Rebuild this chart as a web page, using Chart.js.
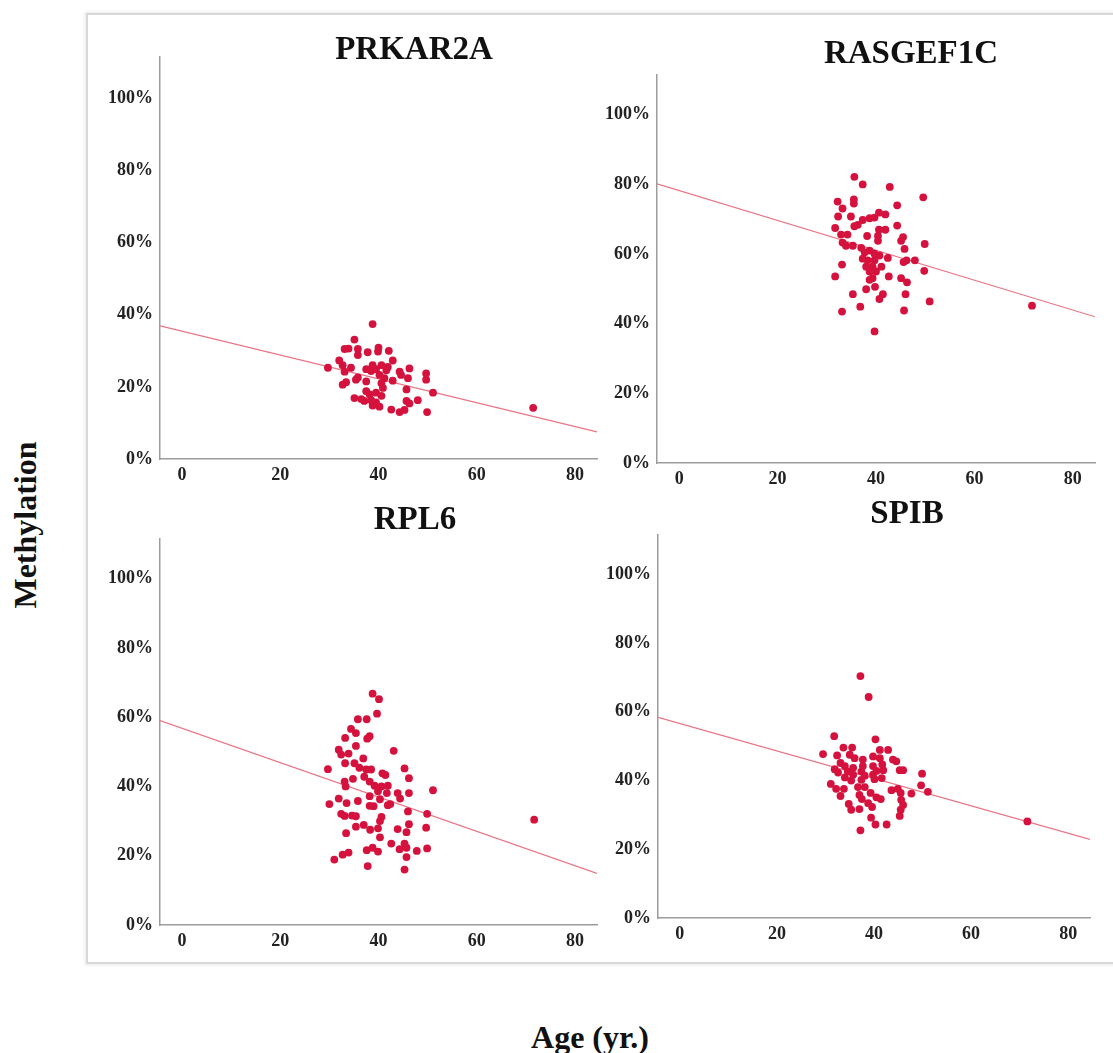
<!DOCTYPE html>
<html>
<head>
<meta charset="utf-8">
<script src="https://cdn.jsdelivr.net/npm/chart.js@4.4.1/dist/chart.umd.min.js"></script>
<style>
  body { margin: 0; width: 1113px; height: 1053px; overflow: hidden; background: #fff; font-family: "Liberation Serif", "Times New Roman", serif; }
  .frame { position: absolute; left: 86px; top: 13px; width: 1040px; height: 947px; border: 2px solid #d8d8d8; box-shadow: 0 0 3px 1px #e8e8e8; }
  .panel { position: absolute; }
  .title { position: absolute; transform: translate(-50%, -50%); font-weight: bold; font-size: 33px; color: #111; white-space: nowrap; }
  .axis-label { position: absolute; font-weight: bold; font-size: 32px; color: #111; white-space: nowrap; }
</style>
</head>
<body>
<div class="frame"></div>

<div class="panel" id="p1"><canvas id="c1"></canvas></div>
<div class="panel" id="p2"><canvas id="c2"></canvas></div>
<div class="panel" id="p3"><canvas id="c3"></canvas></div>
<div class="panel" id="p4"><canvas id="c4"></canvas></div>

<div class="title" style="left:414px; top:48px;">PRKAR2A</div>
<div class="title" style="left:911px; top:52px;">RASGEF1C</div>
<div class="title" style="left:415px; top:518px;">RPL6</div>
<div class="title" style="left:907px; top:512px;">SPIB</div>

<div class="axis-label" style="left:25px; top:525px; transform: translate(-50%, -50%) rotate(-90deg);">Methylation</div>
<div class="axis-label" style="left:590px; top:1037px; transform: translate(-50%, -50%);">Age (yr.)</div>

<script>
// tick labels
const xTicks = [0, 20, 40, 60, 80];
const yTicks = [0, 20, 40, 60, 80, 100];

// fitted line is drawn across the x axis range
const fitAge = [-4.5, 84.5];

// PRKAR2A
const prkarAge = [38.8,35.1,33.1,33.9,35.8,35.8,37.8,40.0,39.9,42.1,
  32.0,29.7,32.7,33.1,34.4,35.8,37.5,38.5,39.5,40.6,
  41.6,42.9,40.2,41.2,44.3,44.6,46.3,46.0,45.7,49.7,
  49.7,51.1,32.7,33.4,35.4,37.5,40.6,40.9,37.5,38.2,
  39.5,35.1,37.1,38.5,39.5,40.2,38.8,42.6,44.3,45.3,
  45.7,46.3,48.0,49.9,38.8,41.9,42.9,40.6,36.5,71.5];
const prkarMeth = [37.4,33.1,30.5,30.6,30.5,28.8,29.6,30.9,29.8,30.0,
  27.3,25.3,26.0,24.2,25.3,22.6,24.9,24.4,24.9,26.0,
  24.6,27.3,23.3,22.4,24.2,23.3,25.1,22.4,19.3,23.7,
  22.0,18.4,20.6,21.3,22.0,21.5,21.0,19.7,18.8,17.9,
  18.4,16.9,16.1,16.3,15.7,14.5,14.8,13.7,13.0,13.6,
  16.1,15.4,16.3,13.0,26.0,25.5,21.7,17.5,16.6,14.2];
const prkarFit = [36.9, 7.5];

// RASGEF1C
const rasAge = [35.6,37.3,42.8,49.6,32.2,35.5,35.5,33.2,44.3,32.3,
  34.9,37.3,38.7,39.7,40.6,41.9,31.7,35.6,36.3,40.6,
  41.9,44.3,32.9,34.2,38.2,40.4,40.4,45.1,45.5,33.2,
  33.9,35.3,45.8,49.9,37.0,37.7,38.7,39.7,37.3,38.3,
  39.7,40.7,42.4,46.2,47.9,38.0,39.3,41.1,38.7,40.0,
  33.1,49.8,31.7,39.3,42.6,45.1,46.3,38.7,38.0,39.8,
  35.3,41.4,40.7,46.0,36.8,33.1,45.7,50.9,39.7,45.6,71.7];
const rasMeth = [82.2,80.0,79.3,76.3,75.1,75.7,74.5,73.1,74.0,70.8,
  70.8,69.8,70.3,70.5,71.9,71.4,67.5,68.0,68.4,67.0,
  67.0,68.2,65.6,65.6,65.2,65.2,63.8,63.8,64.9,63.3,
  62.4,62.4,61.5,62.9,61.8,60.5,61.0,60.1,58.7,58.2,
  58.2,59.6,58.9,58.2,58.2,56.4,56.4,56.4,55.0,55.0,
  57.0,55.2,53.6,53.1,53.6,53.1,51.9,52.6,49.9,50.6,
  48.5,48.5,47.1,48.5,44.9,43.5,43.8,46.4,37.8,57.7,45.2];
const rasFit = [80.2, 42.0];

// RPL6
const rplAge = [38.8,40.1,39.7,35.8,37.6,34.4,35.4,38.2,37.7,33.2,
  35.4,31.9,32.4,33.9,43.1,33.2,35.1,36.9,36.1,37.5,
  38.5,29.7,45.3,34.8,37.1,40.8,41.4,46.2,33.1,33.3,
  38.2,39.2,40.6,41.9,39.9,41.7,43.9,46.2,51.1,31.9,
  30.0,33.5,35.8,38.2,40.3,38.2,39.0,41.9,42.4,44.4,
  46.0,49.9,32.4,33.1,34.6,35.4,40.6,40.3,35.4,37.0,
  38.3,39.9,43.9,46.2,45.7,49.7,33.4,40.3,42.6,45.3,
  45.7,44.3,47.8,49.9,39.9,37.6,38.8,33.9,32.7,31.0,
  45.7,37.8,45.3,71.7];
const rplMeth = [66.8,65.2,61.0,59.4,59.4,56.6,55.4,54.5,53.8,54.0,
  51.7,50.6,49.2,49.5,50.3,46.7,46.7,48.1,45.4,44.9,
  44.9,45.0,45.2,42.2,42.8,43.8,43.3,42.4,41.4,40.0,
  41.4,40.2,40.0,40.2,38.6,38.1,38.1,38.1,38.9,36.5,
  34.9,35.2,35.8,37.2,36.3,34.4,34.3,34.6,34.9,36.5,
  32.8,32.1,32.1,31.5,31.6,31.4,31.2,30.0,28.4,28.9,
  27.5,27.9,27.7,29.1,26.8,28.1,26.5,25.3,23.5,23.5,
  22.3,21.9,21.4,22.1,21.2,21.6,22.3,20.9,20.3,18.9,
  19.6,17.0,16.0,30.4];
const rplFit = [59.0, 14.9];

// SPIB
const spibAge = [37.2,38.9,31.8,40.3,33.7,35.5,41.2,42.9,29.5,32.4,
  35.0,36.0,37.7,39.8,41.2,43.9,44.6,33.1,34.0,37.7,
  39.8,41.7,31.9,35.7,45.3,46.0,32.6,34.6,37.4,40.5,
  41.9,49.9,35.7,38.1,39.8,31.1,34.0,35.3,37.4,40.1,
  41.6,32.2,33.8,36.7,38.1,43.6,44.9,45.5,47.7,49.7,
  51.1,33.1,37.0,39.3,40.5,41.4,37.5,45.6,34.8,38.8,
  39.6,46.0,35.3,37.0,45.5,45.3,39.4,40.3,42.6,37.2,71.6];
const spibMeth = [70.4,64.3,52.9,52.0,49.6,49.6,48.9,48.9,47.7,47.3,
  47.5,46.5,46.1,47.0,46.5,46.1,45.6,45.1,44.2,44.2,
  44.2,44.7,43.3,43.7,43.0,43.0,42.3,42.6,42.6,42.8,
  43.0,42.0,41.7,41.4,41.7,39.0,40.9,40.0,40.2,40.4,
  40.7,37.6,37.6,38.1,38.1,37.2,37.6,36.4,36.2,38.6,
  36.7,35.5,35.8,36.4,35.1,34.6,34.6,34.4,33.2,33.4,
  32.3,32.9,31.5,31.7,31.5,29.7,29.2,27.2,27.2,25.5,28.1];
const spibFit = [58.4, 22.9];

const pointColor = '#d5123d';
const lineColor = '#ea7485';
const axisColor = '#9c9c9c';
const tickFont = { family: 'Liberation Serif', size: 18, weight: 'bold' };

// plot area of each panel in page pixels: left, top, right, bottom
const Y_AXIS_W = 70, X_AXIS_H = 36, PAD_TOP = 6, PAD_RIGHT = 8;

function makePanel(divId, canvasId, area, ages, meth, fitY) {
    const div = document.getElementById(divId);
    const canvas = document.getElementById(canvasId);
    const left = area[0] - Y_AXIS_W;
    const top = area[1] - PAD_TOP;
    const w = area[2] + PAD_RIGHT - left;
    const h = area[3] + X_AXIS_H - top;
    div.style.left = left + 'px';
    div.style.top = top + 'px';
    canvas.width = w;
    canvas.height = h;
    canvas.style.width = w + 'px';
    canvas.style.height = h + 'px';

    new Chart(canvas.getContext('2d'), {
        type: 'scatter',
        data: {
            datasets: [{
                data: ages.map((a, i) => ({ x: a, y: meth[i] })),
                backgroundColor: pointColor,
                borderWidth: 0,
                pointRadius: 3.9,
                pointHoverRadius: 3.9
            }, {
                type: 'line',
                data: fitAge.map((a, i) => ({ x: a, y: fitY[i] })),
                borderColor: lineColor,
                borderWidth: 1.2,
                pointRadius: 0,
                showLine: true,
                fill: false
            }]
        },
        options: {
            responsive: false,
            animation: false,
            events: [],
            layout: { padding: { top: PAD_TOP, right: PAD_RIGHT, left: 0, bottom: 0 } },
            plugins: { legend: { display: false }, tooltip: { enabled: false } },
            scales: {
                x: {
                    type: 'linear',
                    min: fitAge[0],
                    max: fitAge[1],
                    afterBuildTicks: s => { s.ticks = xTicks.map(v => ({ value: v })); },
                    afterFit: s => { s.height = X_AXIS_H; },
                    grid: { display: false, drawTicks: false },
                    border: { color: axisColor, width: 1.5 },
                    ticks: { padding: 6, color: '#222', font: tickFont, maxRotation: 0 }
                },
                y: {
                    type: 'linear',
                    min: 0,
                    max: 111.5,
                    afterBuildTicks: s => { s.ticks = yTicks.map(v => ({ value: v })); },
                    afterFit: s => { s.width = Y_AXIS_W; },
                    grid: { display: false, drawTicks: false },
                    border: { color: axisColor, width: 1.5 },
                    ticks: { padding: 7, color: '#222', font: tickFont, callback: v => v + '%' }
                }
            }
        }
    });
}

makePanel('p1', 'c1', [160, 45, 597, 459], prkarAge, prkarMeth, prkarFit);
makePanel('p2', 'c2', [657, 63, 1095, 463], rasAge, rasMeth, rasFit);
makePanel('p3', 'c3', [160, 527, 597, 925], rplAge, rplMeth, rplFit);
makePanel('p4', 'c4', [658, 523, 1090, 918], spibAge, spibMeth, spibFit);
</script>
</body>
</html>
